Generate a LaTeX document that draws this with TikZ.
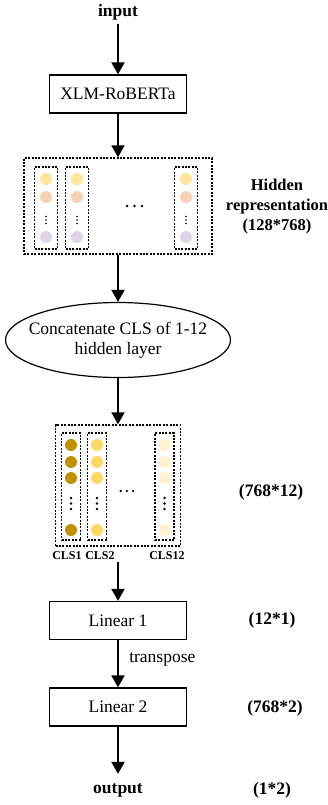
\documentclass[tikz,border=0pt]{standalone}
\usepackage{fontspec}
\setmainfont{Liberation Serif}
\usepackage{xcolor}
\usetikzlibrary{positioning}
\usetikzlibrary{shapes.geometric}
\usetikzlibrary{arrows.meta}

\definecolor{hidA}{RGB}{255,230,153}
\definecolor{hidB}{RGB}{248,208,180}
\definecolor{hidC}{RGB}{220,214,232}
\definecolor{clsA}{RGB}{191,144,0}
\definecolor{clsB}{RGB}{255,217,102}
\definecolor{clsC}{RGB}{255,242,204}

\begin{document}
\begin{tikzpicture}[x=1pt, y=-1pt, ->, >={Triangle[width=13pt,length=12pt]},
    line width=1.9pt, font=\fontsize{17.5}{20}\selectfont,
    layer/.style={rectangle, draw, line width=1.3pt, minimum width=137pt, minimum height=38pt},
    dotbox/.style={rectangle, draw, line width=1.4pt, dash pattern=on 2pt off 1.4pt},
    unit/.style={circle, fill=#1, draw=none, minimum size=12pt, inner sep=0pt},
    bold/.style={font=\fontsize{17.5}{20}\selectfont\bfseries},
    cls/.style={font=\fontsize{12}{14}\selectfont\bfseries, inner sep=1pt}]
    \useasboundingbox (0,0) rectangle (328,805);

    \node [bold] (input) at (118,12) {input};
    \node [layer] (xlm) at (118,94) {XLM-RoBERTa};

    % hidden states of every token
    \node [dotbox, minimum width=188pt, minimum height=96pt] (hidden) at (118,206) {};
    \foreach \x/\n in {46/a, 77/b, 186/c} {
        \node [dotbox, minimum width=23pt, minimum height=82pt] (hcol\n) at (\x,208) {};
        \node [unit=hidA] (h\n1) at (\x,179) {};
        \node [unit=hidB] (h\n2) at (\x,197) {};
        \node [unit=hidC] (h\n3) at (\x,237) {};
        \foreach \y in {216.5, 220, 223.5}
            \fill[-] (\x,\y) circle (0.8pt);
    }
    \foreach \x in {127, 134.5, 142}
        \fill[-] (\x,206) circle (1.3pt);
    \node [font=\fontsize{16.5}{20}\selectfont\bfseries, align=center] (hidlab) at (277,207)
        {Hidden\\representation\\(128*768)};

    \node [ellipse, draw, line width=1.2pt, minimum width=225pt, minimum height=75pt,
        inner sep=0pt] (concat) at (118,340) {};
    \node [align=center] (concattxt) at (concat) {Concatenate CLS of 1-12\\hidden layer};

    % CLS vectors of the 12 layers
    \node [dotbox, minimum width=125pt, minimum height=121pt] (clsbox) at (118,485.5) {};
    \foreach \x/\n/\c in {71/a/clsA, 97/b/clsB, 164.5/c/clsC} {
        \node [dotbox, minimum width=19pt, minimum height=107pt] (ccol\n) at (\x,486.5) {};
        \foreach \y/\k in {445/1, 462/2, 478/3, 530/4}
            \node [unit=\c] (c\n\k) at (\x,\y) {};
        \foreach \y in {498, 503.5, 509}
            \fill[-] (\x,\y) circle (1.3pt);
    }
    \foreach \x in {120.7, 126.9, 133.1}
        \fill[-] (\x,491) circle (1.3pt);
    \node [cls] (cls1) at (67,556) {CLS1};
    \node [cls] (cls2) at (100,556) {CLS2};
    \node [cls] (cls12) at (167,556) {CLS12};
    \node [bold] (clslab) at (271,492) {(768*12)};
    \coordinate (clsout) at (118,562);

    \node [layer] (lin1) at (118,620.5) {Linear 1};
    \node [bold] (lin1lab) at (272,620) {(12*1)};
    \node [layer] (lin2) at (118,707) {Linear 2};
    \node [bold] (lin2lab) at (275,708) {(768*2)};
    \node [bold] (output) at (118,790) {output};
    \node [bold] (outlab) at (272,790) {(1*2)};

    \path (input) edge (xlm);
    \path (xlm) edge (hidden);
    \path (hidden) edge (concat);
    \path (concat) edge (clsbox);
    \path (clsout) edge (lin1);
    \path (lin1) edge node[right, xshift=7pt, yshift=4pt] {transpose} (lin2);
    \path (lin2) edge[shorten >=5pt] (output);
\end{tikzpicture}
\end{document}
